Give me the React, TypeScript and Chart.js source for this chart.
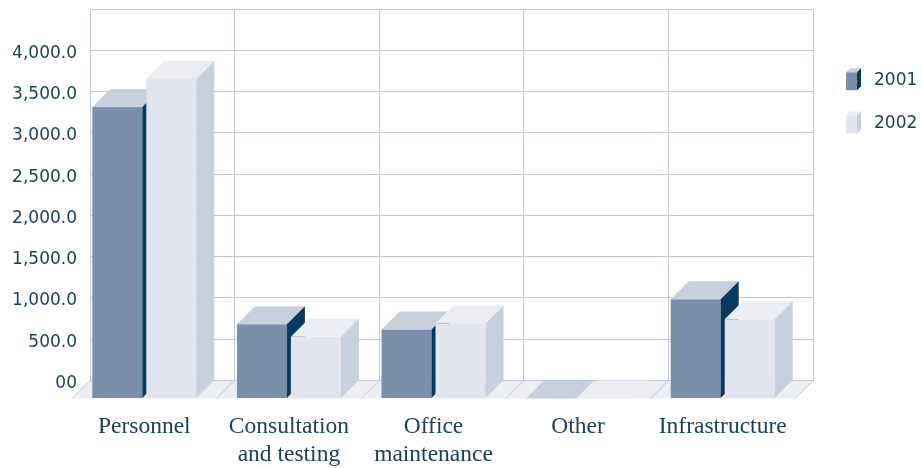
import React, { useEffect, useRef } from 'react';
import { Chart, registerables } from 'chart.js';

Chart.register(...registerables);

// ---- data ----
const categories: (string | string[])[] = [
  'Personnel',
  ['Consultation', 'and testing'],
  ['Office', 'maintenance'],
  'Other',
  'Infrastructure',
];
const seriesNames = ['2001', '2002'];
const values2001 = [3530, 900, 836, 0, 1203];
const values2002 = [3870, 747, 909, 0, 960];
const yTickLabels = ['00', '500.0', '1,000.0', '1,500.0', '2,000.0', '2,500.0', '3,000.0', '3,500.0', '4,000.0'];
const yMin = 0;
const yMax = 4500;
const yStep = 500;

// ---- styles ----
const GRID = '#bfc7d8';
const FLOOR = '#eceef4';
const TEXT = '#1c3f60';
const DEPTH = 18;
const FACE_COLORS = [
  { front: '#7b8fab', top: '#c8cfdc', side: '#083a5f' },
  { front: '#e2e5ee', top: '#ebedf3', side: '#c8cfdc' },
];

function drawBox(ctx: CanvasRenderingContext2D, xl: number, xr: number, yt: number, yb: number, d: number, c: any) {
  ctx.fillStyle = c.front;
  ctx.fillRect(xl, yt, xr - xl, yb - yt);
  ctx.fillStyle = c.top;
  ctx.beginPath();
  ctx.moveTo(xl, yt);
  ctx.lineTo(xr, yt);
  ctx.lineTo(xr + d, yt - d);
  ctx.lineTo(xl + d, yt - d);
  ctx.closePath();
  ctx.fill();
  ctx.fillStyle = c.side;
  ctx.beginPath();
  ctx.moveTo(xr, yt);
  ctx.lineTo(xr + d, yt - d);
  ctx.lineTo(xr + d, yb - d);
  ctx.lineTo(xr, yb);
  ctx.closePath();
  ctx.fill();
}

const bar3dPlugin = {
  id: 'bar3d',
  beforeDatasetsDraw(chart: any) {
    const { ctx, chartArea: a, scales } = chart;
    const x = scales.x;
    const n = chart.data.labels.length;
    ctx.save();
    ctx.fillStyle = FLOOR;
    ctx.beginPath();
    ctx.moveTo(a.left, a.bottom + 0.5);
    ctx.lineTo(a.right, a.bottom + 0.5);
    ctx.lineTo(a.right - DEPTH, a.bottom + DEPTH);
    ctx.lineTo(a.left - DEPTH, a.bottom + DEPTH);
    ctx.closePath();
    ctx.fill();
    ctx.strokeStyle = GRID;
    ctx.lineWidth = 1;
    for (let i = 0; i <= n; i++) {
      const bx = x.getPixelForValue(i - 0.5);
      ctx.beginPath();
      ctx.moveTo(bx, a.bottom);
      ctx.lineTo(bx - DEPTH, a.bottom + DEPTH);
      ctx.stroke();
    }
    ctx.restore();
  },
  afterDatasetsDraw(chart: any) {
    const { ctx } = chart;
    const n = chart.data.labels.length;
    const metas = chart.data.datasets.map((_: any, i: number) => chart.getDatasetMeta(i));
    ctx.save();
    for (let i = 0; i < n; i++) {
      metas.forEach((meta: any, d: number) => {
        const el = meta.data[i];
        if (!el) return;
        const { x, y, base, width } = el.getProps(['x', 'y', 'base', 'width'], true);
        const xl = x - width / 2 - DEPTH;
        const xr = x + width / 2 - DEPTH;
        drawBox(ctx, xl, xr, y + DEPTH, base + DEPTH, DEPTH, FACE_COLORS[d]);
      });
    }
    ctx.restore();
  },
  afterDraw(chart: any) {
    const { ctx, chartArea: a } = chart;
    ctx.save();
    chart.data.datasets.forEach((ds: any, i: number) => {
      const cy = a.top + 70.7 + i * 43.3;
      const ix = a.right + 33;
      const c = FACE_COLORS[i];
      drawBox(ctx, ix, ix + 11, cy - 7.5, cy + 10.5, 4, c);
      ctx.fillStyle = TEXT;
      ctx.font = '17px "DejaVu Sans"';
      ctx.textBaseline = 'middle';
      ctx.textAlign = 'left';
      ctx.fillText(ds.label, ix + 28, cy + 0.5);
    });
    ctx.restore();
  },
};

export default function App() {
  const ref = useRef<HTMLCanvasElement | null>(null);
  useEffect(() => {
    if (!ref.current) return;
    const chart = new Chart(ref.current, {
      type: 'bar',
      data: {
        labels: categories as any,
        datasets: [
          {
            label: seriesNames[0],
            data: values2001,
            backgroundColor: 'rgba(0,0,0,0)',
            borderWidth: 0,
            categoryPercentage: 0.7466,
            barPercentage: 0.926,
          },
          {
            label: seriesNames[1],
            data: values2002,
            backgroundColor: 'rgba(0,0,0,0)',
            borderWidth: 0,
            categoryPercentage: 0.7466,
            barPercentage: 0.926,
          },
        ],
      },
      options: {
        animation: false,
        responsive: false,
        events: [],
        layout: { padding: { top: 9, right: 110, bottom: 0, left: 0 } },
        plugins: { legend: { display: false }, tooltip: { enabled: false } },
        scales: {
          x: {
            grid: { color: GRID, drawTicks: false, offset: true },
            border: { color: GRID },
            ticks: {
              color: TEXT,
              font: { family: '"Liberation Serif", serif', size: 23.5, lineHeight: 1.213 },
              padding: 32,
              labelOffset: -DEPTH,
              maxRotation: 0,
              minRotation: 0,
              autoSkip: false,
            },
            afterFit: (s: any) => {
              s.height = 87.5;
              s.paddingLeft = 0;
              s.paddingRight = 0;
            },
          },
          y: {
            min: yMin,
            max: yMax,
            grid: { color: GRID, drawTicks: false },
            border: { color: GRID },
            ticks: {
              stepSize: yStep,
              color: TEXT,
              font: { family: '"DejaVu Sans", sans-serif', size: 17 },
              padding: 13,
              labelOffset: 3,
              callback: (_v: any, i: number) => yTickLabels[i] ?? '',
            },
            afterFit: (s: any) => {
              s.width = 90;
              s.paddingTop = 0;
              s.paddingBottom = 0;
            },
          },
        },
      },
      plugins: [bar3dPlugin],
    });
    return () => chart.destroy();
  }, []);
  return (
    <canvas
      ref={ref}
      width={923}
      height={468}
      style={{ position: 'absolute', left: 0, top: 0, width: 923, height: 468 }}
    />
  );
}
